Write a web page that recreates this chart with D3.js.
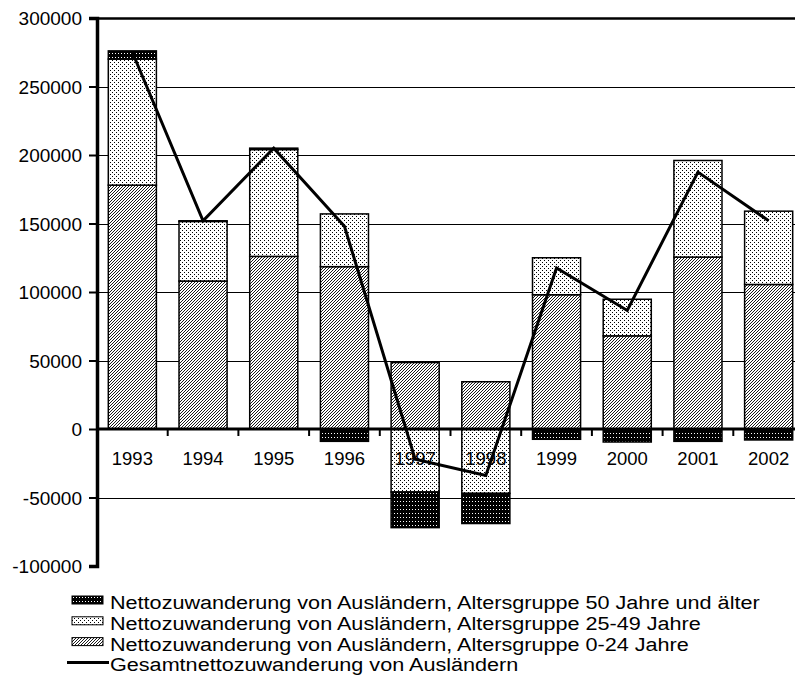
<!DOCTYPE html>
<html><head><meta charset="utf-8">
<script src="https://cdn.jsdelivr.net/npm/d3@7"></script>
<style>
body{margin:0;background:#fff;}
text{font-family:"Liberation Sans",Arial,sans-serif;fill:#000;}
</style></head>
<body><svg id="c" width="795" height="680"></svg>
<script>
const years = ["1993","1994","1995","1996","1997","1998","1999","2000","2001","2002"];
const age0_24 = [178000,108000,126000,118500,48500,34500,98000,68000,125500,105500];
const age25_49 = [92000,43500,78000,38500,-46000,-47000,27000,26700,70500,53500];
const age50plus = [6000,500,1000,-9000,-26000,-22000,-7500,-9500,-9000,-8000];
const total = [275000,152000,205000,148000,-22000,-34000,117500,86500,187500,152000];
const yTicks = [-100000,-50000,0,50000,100000,150000,200000,250000,300000];
const legendLabels = [
 "Nettozuwanderung von Ausländern, Altersgruppe 50 Jahre und älter",
 "Nettozuwanderung von Ausländern, Altersgruppe 25-49 Jahre",
 "Nettozuwanderung von Ausländern, Altersgruppe 0-24 Jahre",
 "Gesamtnettozuwanderung von Ausländern"
];

const svg = d3.select("#c");
const defs = svg.append("defs");
const ph = defs.append("pattern").attr("id","hatch").attr("patternUnits","userSpaceOnUse").attr("width",3).attr("height",3);
ph.append("rect").attr("width",3).attr("height",3).attr("fill","#fff");
ph.append("path").attr("d","M-1,1 L1,-1 M0,3 L3,0 M2,4 L4,2").attr("stroke","#000").attr("stroke-width",0.9);
const pl = defs.append("pattern").attr("id","ldots").attr("patternUnits","userSpaceOnUse").attr("width",4).attr("height",4);
pl.append("rect").attr("width",4).attr("height",4).attr("fill","#fff");
pl.append("rect").attr("x",0).attr("y",0).attr("width",1).attr("height",1).attr("fill","#000");
pl.append("rect").attr("x",2).attr("y",2).attr("width",1).attr("height",1).attr("fill","#000");
const pd = defs.append("pattern").attr("id","ddots").attr("patternUnits","userSpaceOnUse").attr("width",3).attr("height",4);
pd.append("rect").attr("width",3).attr("height",4).attr("fill","#000");
pd.append("rect").attr("x",1).attr("y",1).attr("width",1).attr("height",1).attr("fill","#fff");

const x0 = 97, x1 = 804, yTop = 18, yBot = 566;
const x = d3.scaleBand().domain(years).range([x0,x1]).paddingInner(0.32).paddingOuter(0.16);
const y = d3.scaleLinear().domain([-100000,300000]).range([yBot,yTop]);

svg.append("g").selectAll("line").data(yTicks.filter(d=>d!==0 && d!==-100000)).join("line")
  .attr("x1",x0).attr("x2",795).attr("y1",d=>Math.round(y(d))+0.5).attr("y2",d=>Math.round(y(d))+0.5)
  .attr("stroke","#000").attr("stroke-width",d=>d===300000?2.5:1);

const series = [
  {vals:age0_24, fill:"url(#hatch)"},
  {vals:age25_49, fill:"url(#ldots)"},
  {vals:age50plus, fill:"url(#ddots)"}
];
const posBase = years.map(()=>0), negBase = years.map(()=>0);
series.forEach(s=>{
  const rects = years.map((yr,i)=>{
    const v = s.vals[i];
    let a,b;
    if(v>=0){a=posBase[i]; b=a+v; posBase[i]=b;} else {a=negBase[i]; b=a+v; negBase[i]=b;}
    return {yr,a,b};
  });
  svg.append("g").selectAll("rect").data(rects).join("rect")
    .attr("x",d=>x(d.yr)).attr("width",x.bandwidth())
    .attr("y",d=>y(Math.max(d.a,d.b))).attr("height",d=>Math.abs(y(d.a)-y(d.b)))
    .attr("fill",s.fill).attr("stroke","#000").attr("stroke-width",1.5);
});

const yAxis = d3.axisLeft(y).tickValues(yTicks).tickSize(8).tickFormat(d=>String(d));
const gy = svg.append("g").attr("transform",`translate(${x0},0)`).call(yAxis);
gy.select(".domain").attr("stroke-width",3.5);
gy.selectAll(".tick line").attr("stroke-width",2);
gy.selectAll("text").attr("font-size",19).attr("x",-15).attr("dy","0.35em")
  .style("font-family","'Liberation Sans',Arial,sans-serif");

const gx = svg.append("g").attr("transform",`translate(0,${y(0)})`);
gx.append("line").attr("x1",x0).attr("x2",795).attr("stroke","#000").attr("stroke-width",3);
const step = x.step();
gx.selectAll("line.tk").data(years.slice(1)).join("line").attr("class","tk")
  .attr("x1",d=>x(d)-(step-x.bandwidth())/2).attr("x2",d=>x(d)-(step-x.bandwidth())/2)
  .attr("y1",0).attr("y2",7).attr("stroke","#000").attr("stroke-width",2);
gx.selectAll("text").data(years).join("text")
  .attr("x",d=>x(d)+x.bandwidth()/2).attr("y",36).attr("text-anchor","middle")
  .attr("font-size",18.5).text(d=>d);

const line = d3.line().x((d,i)=>x(years[i])+x.bandwidth()/2).y(d=>y(d));
svg.append("path").datum(total).attr("d",line).attr("fill","none").attr("stroke","#000").attr("stroke-width",3).attr("stroke-linejoin","miter");

const lg = svg.append("g");
const fills = ["url(#ddots)","url(#ldots)","url(#hatch)"];
legendLabels.forEach((t,i)=>{
  const base = 609 + i*20.8;
  if(i<3){
    lg.append("rect").attr("x",72).attr("y",base-13).attr("width",31).attr("height",8)
      .attr("fill",fills[i]).attr("stroke","#000").attr("stroke-width",1);
  } else {
    lg.append("line").attr("x1",67).attr("x2",109).attr("y1",base-9).attr("y2",base-9).attr("stroke","#000").attr("stroke-width",3);
  }
  const tx = lg.append("text").attr("x",110).attr("y",base).attr("font-size",18).text(t);
  const w = tx.node().getComputedTextLength();
  tx.attr("textLength", w*1.2).attr("lengthAdjust","spacingAndGlyphs");
});
</script></body></html>
